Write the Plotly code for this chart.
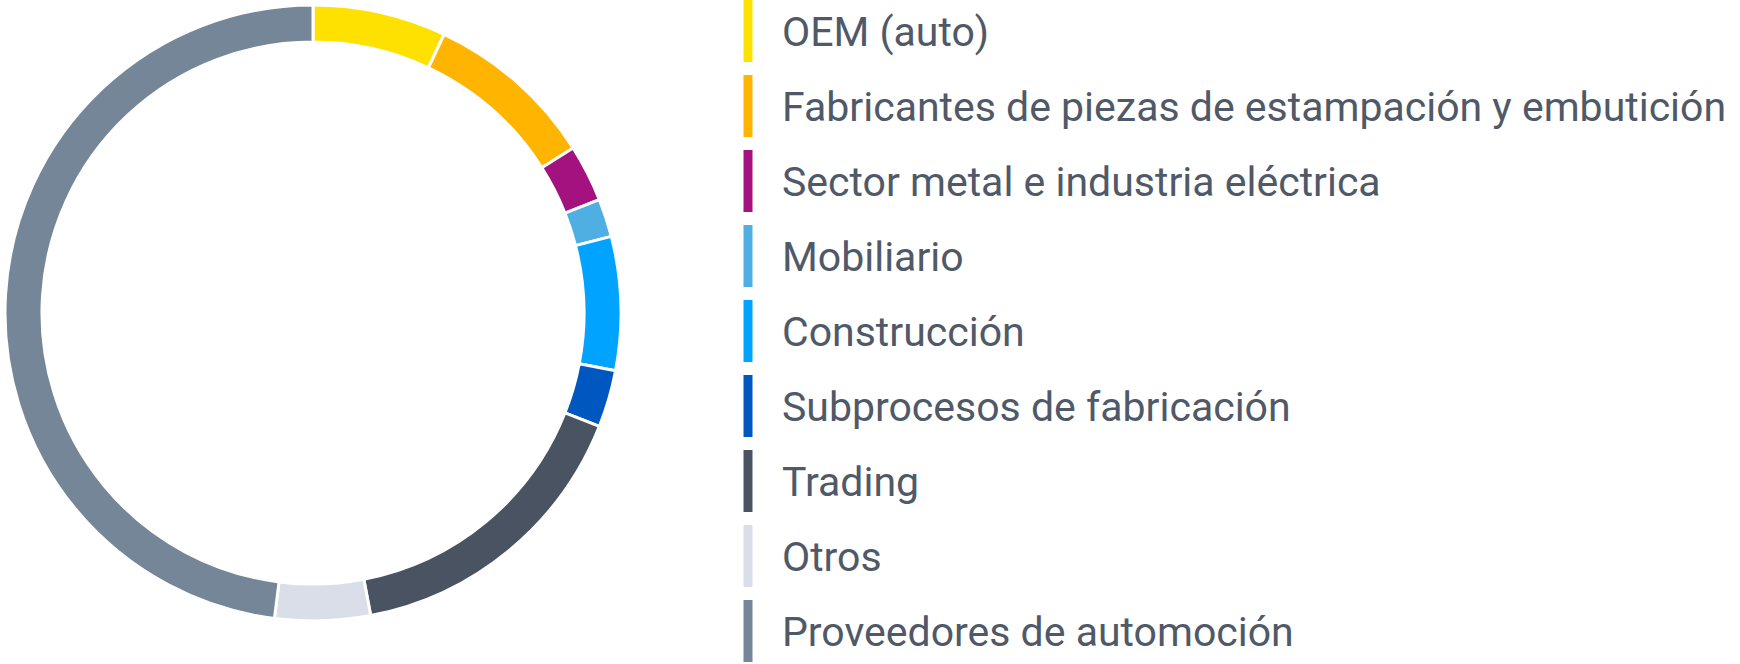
import plotly.graph_objects as go

categories = [
    "OEM (auto)",
    "Fabricantes de piezas de estampación y embutición",
    "Sector metal e industria eléctrica",
    "Mobiliario",
    "Construcción",
    "Subprocesos de fabricación",
    "Trading",
    "Otros",
    "Proveedores de automoción",
]
values = [7, 9, 3, 2, 7, 3, 16, 5, 48]
colors = ["#FFE100", "#FFB400", "#A3127F", "#4FAEE2", "#00A3FF",
          "#0057C0", "#4A5362", "#D9DEE8", "#768699"]

W, H = 1740, 664
TEXT_COLOR = "#4F5968"
FONT = "Roboto, Liberation Sans, sans-serif"
ROW = 75          # px between legend rows
TOP = 31          # px from top to first row centre
TEXT_SHIFT = 5    # px the labels sit lower than the swatch centres

fig = go.Figure()

fig.add_trace(go.Pie(
    labels=categories,
    values=values,
    marker=dict(colors=colors, line=dict(color="white", width=3)),
    hole=0.88,
    sort=False,
    direction="clockwise",
    rotation=0,
    textinfo="none",
    hoverinfo="label+percent",
    showlegend=False,
    domain=dict(x=[5 / W, 621 / W], y=[(H - 621) / H, (H - 5) / H]),
))

rows = list(range(len(categories)))

# legend swatches (vertical bars); line-ns length = 1.4 * size
fig.add_trace(go.Scatter(
    x=[748] * len(categories),
    y=rows,
    mode="markers",
    marker=dict(symbol="line-ns", size=62 / 1.4,
                line=dict(color=colors, width=9)),
    hoverinfo="skip",
    showlegend=False,
    xaxis="x", yaxis="y",
))

# legend labels
fig.add_trace(go.Scatter(
    x=[782] * len(categories),
    y=rows,
    mode="text",
    text=categories,
    textposition="middle right",
    textfont=dict(family=FONT, size=41, color=TEXT_COLOR),
    hoverinfo="skip",
    showlegend=False,
    xaxis="x", yaxis="y2",
))

y_top = -TOP / ROW
y_bot = (H - TOP) / ROW
shift = TEXT_SHIFT / ROW

fig.update_layout(
    width=W, height=H,
    margin=dict(l=0, r=0, t=0, b=0),
    paper_bgcolor="white",
    plot_bgcolor="rgba(0,0,0,0)",
    xaxis=dict(domain=[0, 1], range=[0, W], visible=False, fixedrange=True),
    yaxis=dict(domain=[0, 1], range=[y_bot, y_top], visible=False, fixedrange=True),
    yaxis2=dict(domain=[0, 1], range=[y_bot - shift, y_top - shift], visible=False,
                fixedrange=True, overlaying="y"),
)

fig.write_html("out.html", config={"displayModeBar": False},
               post_script="document.body.style.margin='0';")
